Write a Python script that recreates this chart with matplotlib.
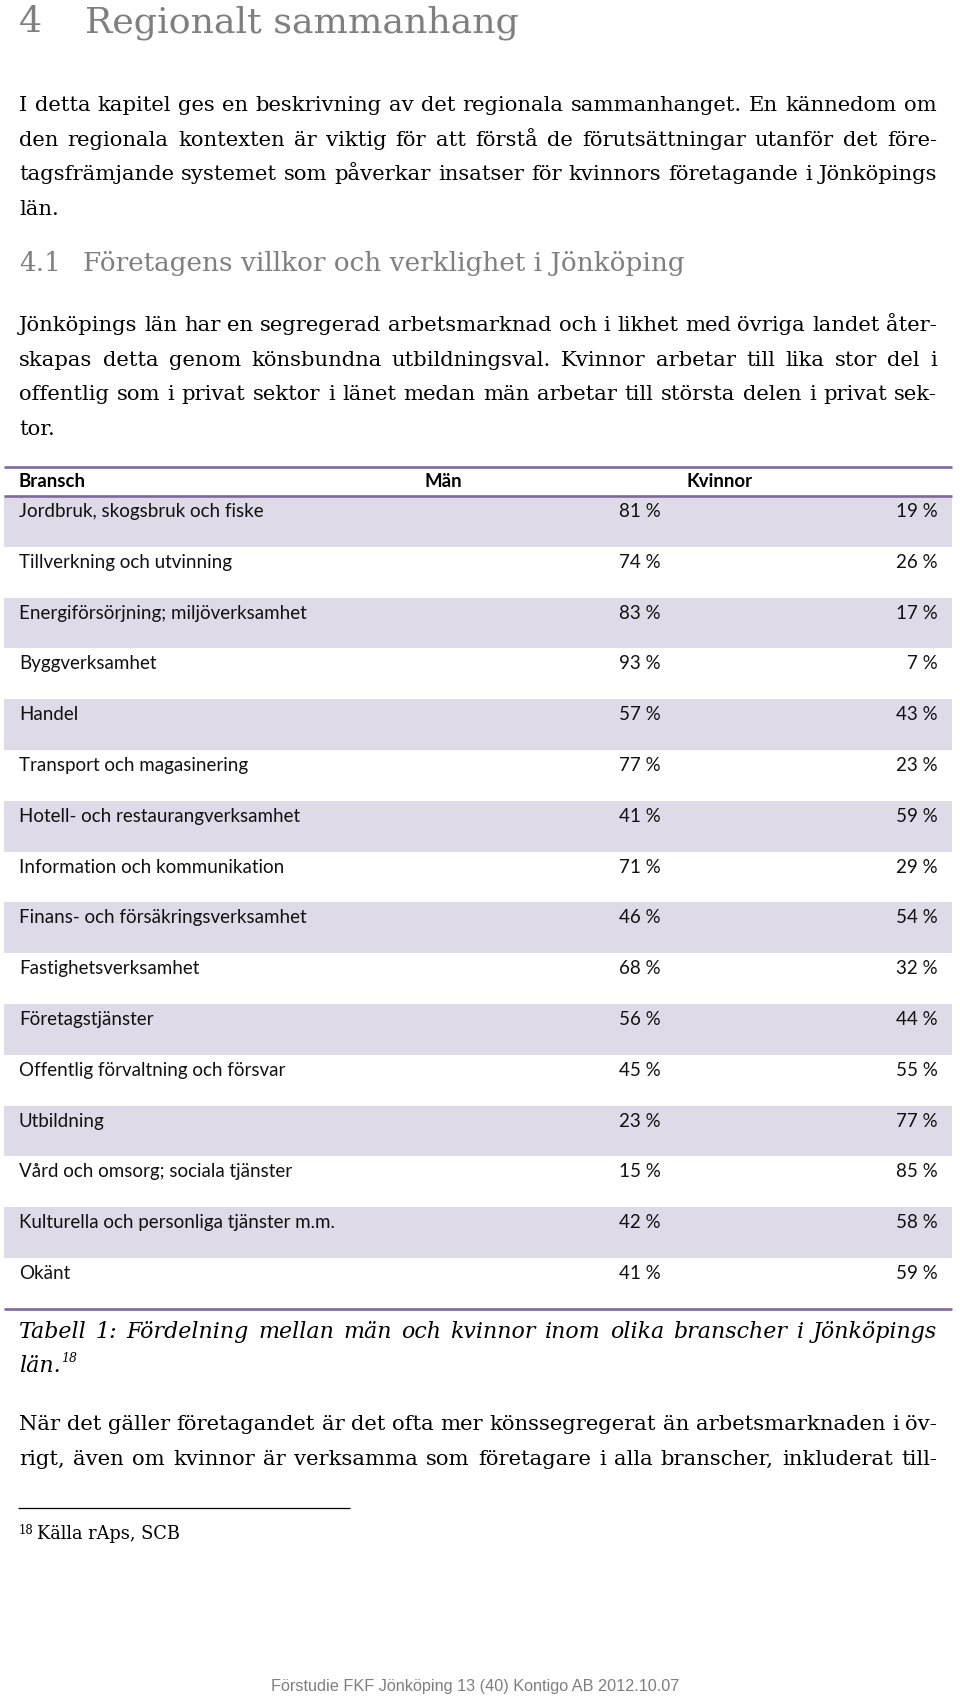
import matplotlib
matplotlib.use("Agg")
from matplotlib import pyplot as plt

# table data
branscher = ["Jordbruk, skogsbruk och fiske", "Tillverkning och utvinning",
             "Energiförsörjning; miljöverksamhet", "Byggverksamhet", "Handel",
             "Transport och magasinering", "Hotell- och restaurangverksamhet",
             "Information och kommunikation", "Finans- och försäkringsverksamhet",
             "Fastighetsverksamhet", "Företagstjänster", "Offentlig förvaltning och försvar",
             "Utbildning", "Vård och omsorg; sociala tjänster",
             "Kulturella och personliga tjänster m.m.", "Okänt"]
man = [81, 74, 83, 93, 57, 77, 41, 71, 46, 68, 56, 45, 23, 15, 42, 41]
kvinnor = [19, 26, 17, 7, 43, 23, 59, 29, 54, 32, 44, 55, 77, 85, 58, 59]
headers = ["Bransch", "Män", "Kvinnor"]

para1 = ["I detta kapitel ges en beskrivning av det regionala sammanhanget. En kännedom om",
         "den regionala kontexten är viktig för att förstå de förutsättningar utanför det före-",
         "tagsfrämjande systemet som påverkar insatser för kvinnors företagande i Jönköpings",
         "län."]
para2 = ["Jönköpings län har en segregerad arbetsmarknad och i likhet med övriga landet åter-",
         "skapas detta genom könsbundna utbildningsval. Kvinnor arbetar till lika stor del i",
         "offentlig som i privat sektor i länet medan män arbetar till största delen i privat sek-",
         "tor."]
caption = ["Tabell 1: Fördelning mellan män och kvinnor inom olika branscher i Jönköpings",
           "län."]
para3 = ["När det gäller företagandet är det ofta mer könssegregerat än arbetsmarknaden i öv-",
         "rigt, även om kvinnor är verksamma som företagare i alla branscher, inkluderat till-"]

SERIF = "DejaVu Serif"
SANS = "Lato"
GRAY = "#7f7f7f"
PURPLE = "#7f68a0"
BAND = "#dfdae8"

fig = plt.figure(figsize=(9.6, 16.96), dpi=100)
ax = fig.add_axes([0, 0, 1, 1])
ax.set_xlim(0, 960)
ax.set_ylim(1696, 0)
ax.axis("off")
renderer = fig.canvas.get_renderer()

X0, X1 = 19, 937
LEAD = 34.6


def justified(y, line, **kw):
    words = line.split()
    ts = [ax.text(0, y, w, va="baseline", **kw) for w in words]
    ws = [t.get_window_extent(renderer).width for t in ts]
    gap = (X1 - X0 - sum(ws)) / (len(words) - 1)
    x = X0
    for t, w in zip(ts, ws):
        t.set_x(x)
        x += w + gap


def paragraph(y0, lines, last_open=False, **kw):
    for i, line in enumerate(lines):
        y = y0 + i * LEAD
        if i < len(lines) - 1 or last_open:
            justified(y, line, **kw)
        else:
            ax.text(X0, y, line, va="baseline", **kw)


body = dict(family=SERIF, fontsize=15.2, color="black")

# headings
ax.text(19, 32, "4", family=SERIF, fontsize=26.2, color=GRAY, va="baseline")
ax.text(85, 32, "Regionalt sammanhang", family=SERIF, fontsize=26.2, color=GRAY, va="baseline")
paragraph(111, para1, **body)
ax.text(19, 271, "4.1", family=SERIF, fontsize=18.9, color=GRAY, va="baseline")
ax.text(83, 271, "Företagens villkor och verklighet i Jönköping", family=SERIF,
        fontsize=18.9, color=GRAY, va="baseline")
paragraph(331, para2, **body)

# table
top, head_bot, pitch = 467, 496, 50.8
n = len(branscher)
centers = [head_bot + (i + 0.5) * pitch for i in range(n)]
shaded = [i for i in range(n) if i % 2 == 0]
ax.barh([centers[i] for i in shaded], [948] * len(shaded), left=4, height=pitch,
        color=BAND, zorder=0)
ax.hlines([top, head_bot, head_bot + n * pitch], 4, 952, color=PURPLE, lw=1.9)

hkw = dict(family=SANS, fontsize=13.4, fontweight="bold", va="baseline")
ax.text(19, 487, headers[0], **hkw)
ax.text(424, 487, headers[1], **hkw)
ax.text(686, 487, headers[2], **hkw)

tkw = dict(family=SANS, fontsize=13.5, va="baseline", color="#111111")
for i, (b, m, k) in enumerate(zip(branscher, man, kvinnor)):
    yb = head_bot + i * pitch + 21
    ax.text(19, yb, b, **tkw)
    ax.text(661, yb, f"{m} %", ha="right", **tkw)
    ax.text(938, yb, f"{k} %", ha="right", **tkw)

# caption
ckw = dict(family=SERIF, fontsize=15.9, style="italic", color="black")
justified(1338, caption[0], **ckw)
t = ax.text(X0, 1372, caption[1], va="baseline", **ckw)
w = t.get_window_extent(renderer).width
ax.text(X0 + w + 1, 1362, "18", va="baseline", family=SERIF, fontsize=9,
        style="italic")

paragraph(1430, para3, last_open=True, **body)

# footnote
ax.hlines(1508, 18, 350, color="black", lw=0.9)
ax.text(19, 1534, "18", family=SERIF, fontsize=8.5, va="baseline")
ax.text(37, 1539, "Källa rAps, SCB", family=SERIF, fontsize=12.8, va="baseline")

# page footer
ax.text(475, 1691, "Förstudie FKF Jönköping 13 (40) Kontigo AB 2012.10.07",
        family="Liberation Sans", fontsize=11.7, color=GRAY, ha="center", va="baseline")

fig.savefig("out.png", dpi=100)
